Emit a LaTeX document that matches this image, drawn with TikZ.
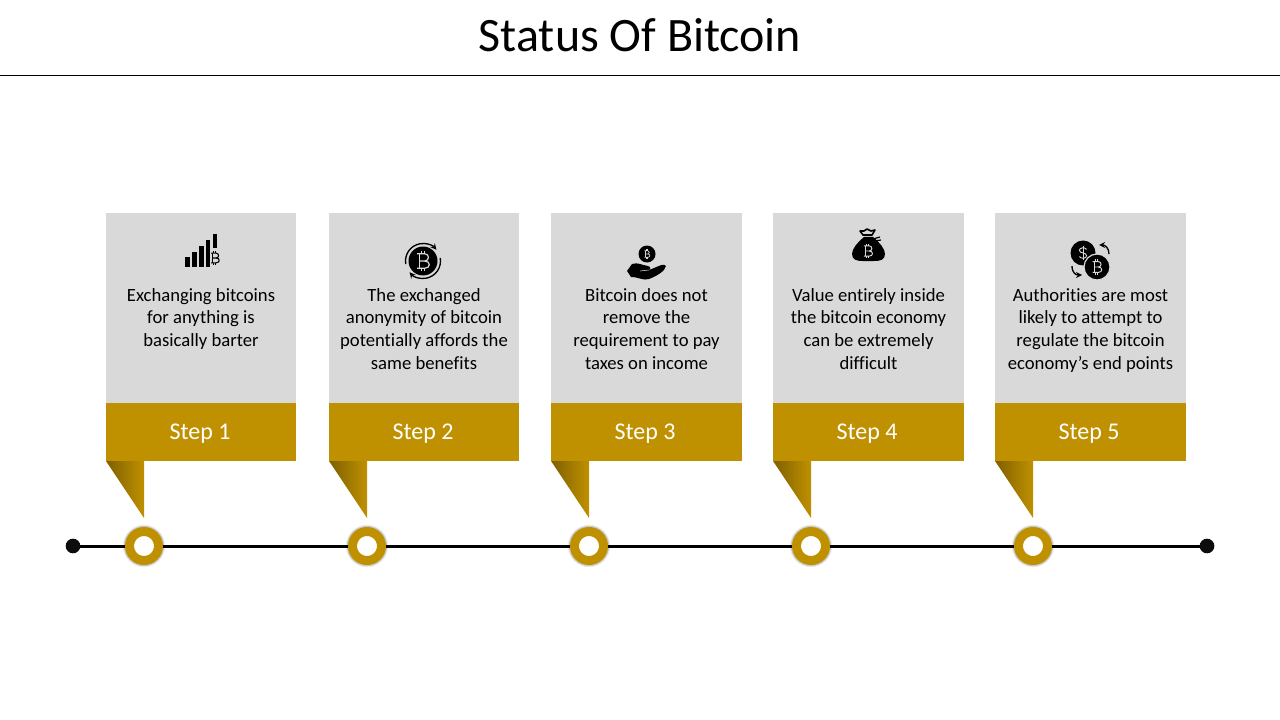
\documentclass[tikz,border=0pt]{standalone}
\usepackage{fontspec}
\setmainfont{Carlito}[Ligatures=CommonOff]
\usetikzlibrary{arrows,shadows}
\definecolor{stepgold}{HTML}{BF9000}
\definecolor{stepdark}{HTML}{7F6000}
\definecolor{stepgray}{HTML}{D9D9D9}
\definecolor{dotblack}{HTML}{0D0D0D}
\tikzset{
  steptext/.style={anchor=north,align=center,inner sep=0pt,text=black,font=\fontsize{14}{17}\selectfont},
  steplabel/.style={text=white,inner sep=0pt,font=\fontsize{18}{21}\selectfont},
  ring/.style={circle,fill=white,draw=stepgold,line width=6.75pt,minimum size=21.75pt,inner sep=0pt,
    general shadow={fill=black,opacity=.08,shadow scale=1.46},
    general shadow={fill=black,opacity=.14,shadow scale=1.39}},
  enddot/.style={circle,fill=dotblack,minimum size=11pt,inner sep=0pt,outer sep=-0.5pt},
  btc/.pic={
    \draw[pic actions,line join=round] (-3,-6) -- (-3,6);
    \draw[pic actions,line join=round] (-5,-6) -- (1.5,-6) .. controls (5.5,-6) and (5.5,0) .. (1.5,0) -- (-3,0);
    \draw[pic actions,line join=round] (1.5,0) .. controls (6.5,0) and (6.5,6) .. (1.5,6) -- (-5,6);
    \draw[pic actions] (-1.5,-6) -- (-1.5,-8.5) (1,-6) -- (1,-8.5);
    \draw[pic actions] (-1.5,6) -- (-1.5,8.5) (1,6) -- (1,8.5);
  },
  usd/.pic={
    \draw[pic actions] (4,-4) .. controls (2,-7) and (-4,-6) .. (-4,-3) .. controls (-4,1) and (4,-1) .. (4,3) .. controls (4,6) and (-2,7) .. (-4,4);
    \draw[pic actions] (0,-8) -- (0,8);
  },
}
\begin{document}
\begin{tikzpicture}[x=0.75pt,y=-0.75pt]
\useasboundingbox (0,0) rectangle (1280,720);
\node[inner sep=0pt,font=\fontsize{36}{43}\selectfont] (title) at (640,35) {Status Of Bitcoin};
\draw[color=black,line width=0.75pt] (0,75.5) -- (1280,75.5);
\begin{scope}[shift={(106,213)}] %exchange
  \fill[color=stepgray] (0,0) rectangle (190,190);
  \fill[color=stepgold] (0,190) rectangle (190,248);
  \shade[left color=stepdark,middle color=stepgold,right color=stepgold] (0,248) -- (38,305) -- (38,248) -- cycle;
  \node[ring] (ring1) at (38,333) {};
  \fill[color=black] (79,44) rectangle (83.5,54);
  \fill[color=black] (86,39) rectangle (91,54);
  \fill[color=black] (93,33) rectangle (98,54);
  \fill[color=black] (100,27) rectangle (104,54);
  \fill[color=black] (107,21) rectangle (111,35);
  \pic[draw=black,line width=0.8pt,scale=0.8] at (109,45) {btc};
  \node[steptext] (text1) at (95,75) {Exchanging bitcoins\\for anything is\\basically barter};
  \node[steplabel] (step1) at (94,221) {Step 1};
\end{scope}
\begin{scope}[shift={(329,213)}] %anonymity
  \fill[color=stepgray] (0,0) rectangle (190,190);
  \fill[color=stepgold] (0,190) rectangle (190,248);
  \shade[left color=stepdark,middle color=stepgold,right color=stepgold] (0,248) -- (38,305) -- (38,248) -- cycle;
  \node[ring] (ring2) at (38,333) {};
  \fill[color=black] (94,48) circle (14.5);
  \draw[color=black,line width=1pt,-stealth] (94,48) ++(170:17.5) arc[start angle=170,end angle=320,radius=17.5];
  \draw[color=black,line width=1pt,-stealth] (94,48) ++(-10:17.5) arc[start angle=-10,end angle=140,radius=17.5];
  \pic[draw=stepgray,line width=0.9pt,scale=1.2] at (94,48) {btc};
  \node[steptext] (text2) at (95,75) {The exchanged\\anonymity of bitcoin\\potentially affords the\\same benefits};
  \node[steplabel] (step2) at (94,221) {Step 2};
\end{scope}
\begin{scope}[shift={(551,213)}] %taxes
  \fill[color=stepgray] (0,0) rectangle (191,190);
  \fill[color=stepgold] (0,190) rectangle (191,248);
  \shade[left color=stepdark,middle color=stepgold,right color=stepgold] (0,248) -- (38,305) -- (38,248) -- cycle;
  \node[ring] (ring3) at (38,333) {};
  \fill[color=black] (96,41) circle (8.5);
  \pic[draw=stepgray,line width=0.5pt,scale=0.55] at (96,41) {btc};
  \fill[color=black] (76,58) -- (81,51) .. controls (87,49) and (90,52) .. (97,53) .. controls (100,54) and (100,56) .. (98,57) -- (103,55) .. controls (108,53) and (113,50) .. (115,53) .. controls (114,58) and (106,63) .. (98,66) .. controls (92,68) and (88,64) .. (80,64) -- cycle;
  \draw[color=stepgray,line width=0.4pt] (89,58) -- (98,57);
  \node[steptext] (text3) at (95.5,75) {Bitcoin does not\\remove the\\requirement to pay\\taxes on income};
  \node[steplabel] (step3) at (94,221) {Step 3};
\end{scope}
\begin{scope}[shift={(773,213)}] %value
  \fill[color=stepgray] (0,0) rectangle (191,190);
  \fill[color=stepgold] (0,190) rectangle (191,248);
  \shade[left color=stepdark,middle color=stepgold,right color=stepgold] (0,248) -- (38,305) -- (38,248) -- cycle;
  \node[ring] (ring4) at (38,333) {};
  \fill[color=black] (91,24) .. controls (84,30) and (79,36) .. (79,41) .. controls (79,47) and (84,48) .. (90,48) -- (101,48) .. controls (107,48) and (112,47) .. (112,41) .. controls (112,36) and (107,30) .. (100,24) -- cycle;
  \draw[color=black,line width=1.2pt,line join=round] (87,18) -- (91,18) -- (94,16) -- (98,18) -- (102,17) -- (99,22) -- (90,22) -- cycle;
  \draw[color=black,line width=0.9pt] (100,26) -- (107,24) (101,28) -- (108,27);
  \pic[draw=stepgray,line width=0.7pt,scale=0.85] at (95,38) {btc};
  \node[steptext] (text4) at (95.5,75) {Value entirely inside\\the bitcoin economy\\can be extremely\\difficult};
  \node[steplabel] (step4) at (94,221) {Step 4};
\end{scope}
\begin{scope}[shift={(995,213)}] %authorities
  \fill[color=stepgray] (0,0) rectangle (191,190);
  \fill[color=stepgold] (0,190) rectangle (191,248);
  \shade[left color=stepdark,middle color=stepgold,right color=stepgold] (0,248) -- (38,305) -- (38,248) -- cycle;
  \node[ring] (ring5) at (38,333) {};
  \fill[color=black] (88,40) circle (12.5);
  \pic[draw=stepgray,line width=0.7pt,scale=0.9] at (88,40) {usd};
  \draw[color=stepgray,line width=0.9pt,fill=black] (102,54) circle (13);
  \pic[draw=stepgray,line width=0.7pt,scale=0.9] at (102,54) {btc};
  \draw[color=black,line width=1pt,-stealth] (114,41) .. controls (114,35) and (110,32) .. (104,32);
  \draw[color=black,line width=1pt,-stealth] (77,53) .. controls (77,60) and (81,62) .. (87,62);
  \node[steptext] (text5) at (95.5,75) {Authorities are most\\likely to attempt to\\regulate the bitcoin\\economy’s end points};
  \node[steplabel] (step5) at (94,221) {Step 5};
\end{scope}
\node[enddot] (dotleft) at (73,546) {};
\node[enddot] (dotright) at (1207,546) {};
\draw[color=black,line width=2.25pt] (dotleft) -- (ring1) (ring1) -- (ring2) (ring2) -- (ring3) (ring3) -- (ring4) (ring4) -- (ring5) (ring5) -- (dotright);
\end{tikzpicture}
\end{document}
